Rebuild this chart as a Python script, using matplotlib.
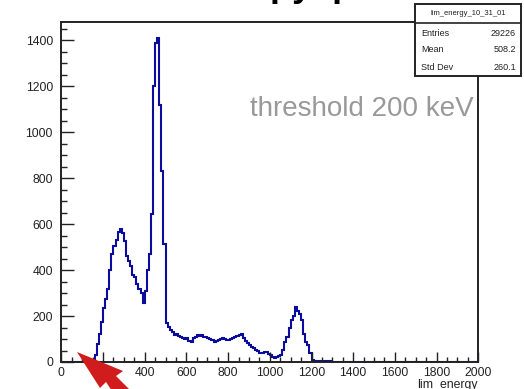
import numpy as np
import matplotlib
matplotlib.use("Agg")
import matplotlib.pyplot as plt
from matplotlib.ticker import MultipleLocator
from matplotlib.patches import Rectangle, Polygon

# ---------------- data ----------------
bin_width = 10
x_min, x_max = 0, 2000
# counts for bins starting at 0, 10, 20, ... (bins 0..150 empty)
counts_low = [0] * 16
counts_hump = [30, 80, 120, 175, 235, 275, 320, 400, 470, 505,      # 160-250
               530, 565, 578, 560, 525, 460, 440, 420, 380, 372,     # 260-350
               340, 318, 300, 255, 310, 400, 470, 645]               # 360-430
counts_peak = [1200, 1388, 1410, 1121, 832, 514, 168, 153]          # 440-510
counts_mid = [140, 131, 117, 122, 112, 110, 104, 100, 103, 92,      # 520-610
              88, 103, 108, 117, 112, 117, 110, 108, 103, 100,      # 620-710
              96, 88, 92, 95, 100, 103, 98, 95, 96, 100,            # 720-810
              106, 110, 112, 117, 120, 103, 92, 81, 72, 66,         # 820-910
              60, 52, 46, 40, 38, 42, 45, 35, 30, 22,               # 920-1010
              16, 23, 27, 30, 52, 88, 110, 150, 185, 200,           # 1020-1110
              240, 220, 211, 182, 124, 88, 74, 40, 9, 5,            # 1120-1210
              4, 6, 5, 4, 4, 3, 4, 3]                               # 1220-1290
counts = counts_low + counts_hump + counts_peak + counts_mid
counts = counts + [0] * (200 - len(counts))
edges = np.arange(x_min, x_max + bin_width, bin_width)

hist_name = "lim_energy_10_31_01"
stat_labels = ["Entries", "Mean", "Std Dev"]
stat_values = ["29226", "508.2", "260.1"]
x_label = "lim_energy"
note = "threshold 200 keV"
y_ticks = [0, 200, 400, 600, 800, 1000, 1200, 1400]
x_ticks = list(range(0, 2001, 200))

# ---------------- figure ----------------
plt.rcParams['font.family'] = ['Liberation Sans', 'DejaVu Sans']
W, H = 524, 389
fig = plt.figure(figsize=(W / 100, H / 100), dpi=100)

def fx(px):
    return px / W

def fy(py):
    return 1 - py / H

ax = fig.add_axes([fx(61.3), fy(362), fx(478.3) - fx(61.3), fy(22) - fy(362)])
ax.stairs(counts, edges, color='#0c0c9c', linewidth=1.5)
ax.set_xlim(x_min, x_max)
ax.set_ylim(0, 1.05 * max(counts))

ax.set_xticks(x_ticks)
ax.set_yticks(y_ticks)
ax.xaxis.set_minor_locator(MultipleLocator(50))
ax.yaxis.set_minor_locator(MultipleLocator(50))
ax.tick_params(axis='x', which='major', direction='in', length=7.3, width=1.0, labelsize=8.8, pad=3.5)
ax.tick_params(axis='x', which='minor', direction='in', length=3.6, width=1.0)
ax.tick_params(axis='y', which='major', direction='in', length=9, width=1.0, labelsize=8.8, pad=6)
ax.tick_params(axis='y', which='minor', direction='in', length=4.5, width=1.0)
ax.tick_params(top=False, right=False, which='both', colors='#222222')
for s in ax.spines.values():
    s.set_linewidth(1.4)
    s.set_color('#222222')

# x label, right aligned under the axis
fig.text(fx(478), fy(379), x_label, ha='right', va='top', fontsize=8.8, color='#222222')

# annotation
fig.text(fx(474), fy(116), note, ha='right', va='baseline', fontsize=20, color='#999999')

# stats box
bx0, bx1, by0, by1, bsep = 415, 521, 4, 76, 23
fig.patches.append(Rectangle((fx(bx0), fy(by1)), fx(bx1) - fx(bx0), fy(by0) - fy(by1),
                             transform=fig.transFigure, facecolor='white', edgecolor='#222222',
                             linewidth=1.4, zorder=10))
fig.add_artist(plt.Line2D([fx(bx0), fx(bx1)], [fy(bsep), fy(bsep)], transform=fig.transFigure,
                          color='#222222', linewidth=1.2, zorder=11))
fig.text(fx((bx0 + bx1) / 2), fy(13.5), hist_name, ha='center', va='center', fontsize=5.5,
         color='#222222', zorder=12)
for i, (lab, val) in enumerate(zip(stat_labels, stat_values)):
    yy = 33 + i * 17
    fig.text(fx(421), fy(yy), lab, ha='left', va='center', fontsize=6.5, color='#222222', zorder=12)
    fig.text(fx(516), fy(yy), val, ha='right', va='center', fontsize=6.5, color='#222222', zorder=12)

# partially visible slide title (only the lowest parts visible at the top edge)
fig.text(fx(312), fy(-4), "py  p", ha='center', va='baseline', fontsize=26,
         fontweight='bold', color='black')

# red arrow
arrow_pts = [(77, 352), (123, 371), (116, 376), (140, 400), (118, 400), (106, 382), (100, 388)]
fig.patches.append(Polygon([(fx(a), fy(b)) for a, b in arrow_pts], closed=True,
                           transform=fig.transFigure, facecolor='#d01c1c', edgecolor='none',
                           zorder=20))

fig.savefig("out.png", dpi=100)
